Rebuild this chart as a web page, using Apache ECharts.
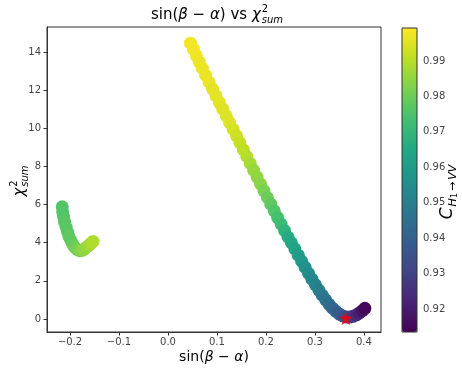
<!DOCTYPE html>
<html><head><meta charset="utf-8">
<script src="https://cdn.jsdelivr.net/npm/echarts@6/dist/echarts.min.js"></script>
<style>html,body{margin:0;padding:0;background:#fff}#c{width:462px;height:369px}</style>
</head><body><div id="c"></div>
<script>
// ---- data ----
const mainX = [0.046,0.052,0.058,0.064,0.070,0.077,0.084,0.091,0.098,0.105,0.112,0.119,0.126,0.133,0.140,0.147,0.154,0.161,0.168,0.175,0.182,0.189,0.196,0.203,0.210,0.217,0.224,0.231,0.238,0.245,0.252,0.259,0.266,0.273,0.280,0.287,0.294,0.301,0.308,0.315,0.322,0.329,0.336,0.343,0.350,0.357,0.364,0.371,0.378,0.385,0.391,0.397,0.402];
const mainY = [14.46,14.15,13.80,13.47,13.15,12.78,12.42,12.06,11.70,11.35,11.00,10.65,10.30,9.95,9.60,9.24,8.88,8.52,8.16,7.80,7.44,7.08,6.72,6.37,6.02,5.67,5.32,4.98,4.64,4.30,4.00,3.68,3.35,3.03,2.71,2.40,2.09,1.80,1.52,1.25,1.00,0.77,0.57,0.40,0.26,0.16,0.10,0.10,0.14,0.22,0.32,0.44,0.56];
const mainC = [0.998,0.998,0.998,0.997,0.997,0.997,0.997,0.996,0.996,0.996,0.995,0.995,0.995,0.994,0.993,0.992,0.991,0.990,0.988,0.986,0.985,0.984,0.982,0.980,0.978,0.976,0.974,0.972,0.969,0.966,0.965,0.963,0.961,0.959,0.957,0.955,0.953,0.952,0.950,0.948,0.946,0.944,0.942,0.940,0.938,0.936,0.934,0.931,0.928,0.924,0.921,0.918,0.915];

const leftX = [-0.216,-0.215,-0.213,-0.211,-0.208,-0.205,-0.202,-0.198,-0.194,-0.190,-0.185,-0.180,-0.175,-0.170,-0.165,-0.160,-0.156,-0.153];
const leftY = [5.88,5.62,5.35,5.08,4.82,4.56,4.32,4.10,3.90,3.75,3.64,3.58,3.60,3.68,3.79,3.90,4.00,4.07];
const leftC = [0.976,0.976,0.976,0.977,0.977,0.977,0.978,0.978,0.979,0.980,0.981,0.982,0.984,0.985,0.986,0.987,0.988,0.989];

const bestX = [0.363];
const bestY = [0.04];

const xTicks = [-0.2,-0.1,0.0,0.1,0.2,0.3,0.4];
const yTicks = [0,2,4,6,8,10,12,14];
const cTicks = [0.92,0.93,0.94,0.95,0.96,0.97,0.98,0.99];
const cMin = 0.9135, cMax = 0.9993;

const viridis = ['#440154','#482475','#414487','#355f8d','#2a788e','#21918c','#22a884','#44bf70','#7ad151','#bddf26','#fde725'];

// ---- build ----
const ptsMain = mainX.map((x,i)=>[x, mainY[i], mainC[i]]);
const ptsLeft = leftX.map((x,i)=>[x, leftY[i], leftC[i]]);
const ptsBest = bestX.map((x,i)=>[x, bestY[i]]);

const cv = document.createElement('canvas').getContext('2d');
function tw(t,f){cv.font=f;return cv.measureText(t).width;}
const FAM = '"DejaVu Sans"';
function layout(pieces){
  let end=0, lastStart=0; const out=[];
  pieces.forEach(p=>{
    const font=(p.it?'italic ':'')+p.s+'px '+FAM;
    const w=tw(p.t,font);
    const px = p.stack ? lastStart : end;
    if(!p.stack) lastStart = px;
    out.push({type:'text', x:px, y:(p.dy||0), style:{text:p.t, font:font, fill:'#000', textAlign:'left', textVerticalAlign:'middle', align:'left', verticalAlign:'middle'}});
    end = Math.max(end, px + w + (p.gap||0));
  });
  out.forEach(o=>{o.x -= end/2;});
  return out;
}
const titleKids = layout([{t:'sin(',s:15},{t:'β',s:15,it:1},{t:' − ',s:15},{t:'α',s:15,it:1},{t:') vs ',s:15},{t:'χ',s:15,it:1,gap:1},{t:'2',s:10,dy:-6},{t:'sum',s:10,it:1,dy:5,stack:1}]);
const xLabKids = layout([{t:'sin(',s:14},{t:'β',s:14,it:1},{t:' − ',s:14},{t:'α',s:14,it:1},{t:')',s:14}]);
const yLabKids = layout([{t:'χ',s:15,it:1,gap:1},{t:'2',s:10,dy:-6},{t:'sum',s:10,it:1,dy:5,stack:1}]);
const cLabKids = layout([{t:'C',s:17,it:1,gap:1},{t:'H',s:11,it:1,dy:5},{t:'1',s:8,dy:7,gap:2},{t:'→',s:11,dy:5,gap:2},{t:'VV',s:11,it:1,dy:5}]);

const fmtX = v => (Math.abs(v)<1e-9?'0.0':v.toFixed(1)).replace('-', '−');
const tickLab = {color:'#444', fontSize:10, fontFamily:FAM};

const chart = echarts.init(document.getElementById('c'), null, {renderer:'canvas'});
chart.setOption({
  animation:false,
  backgroundColor:'#fff',
  grid:[
    {left:47, top:27, width:334, height:305, show:true, borderColor:'#333', borderWidth:1, containLabel:false},
    {left:402, top:28, width:15, height:304, show:false, containLabel:false}
  ],
  xAxis:[
    {gridIndex:0, type:'value', min:-0.247, max:0.435,
     axisLine:{show:true, onZero:false, lineStyle:{color:'#333'}},
     axisTick:{show:true, inside:false, length:3.5, lineStyle:{color:'#333'}, customValues:xTicks},
     axisLabel:{...tickLab, margin:5, customValues:xTicks, formatter:fmtX},
     splitLine:{show:false}},
    {gridIndex:1, type:'value', min:0, max:1, show:false}
  ],
  yAxis:[
    {gridIndex:0, type:'value', min:-0.68, max:15.31,
     axisLine:{show:true, onZero:false, lineStyle:{color:'#333'}},
     axisTick:{show:true, inside:false, length:3.5, lineStyle:{color:'#333'}, customValues:yTicks},
     axisLabel:{...tickLab, margin:6, customValues:yTicks, formatter:v=>String(Math.round(v))},
     splitLine:{show:false}},
    {gridIndex:1, type:'value', position:'right', min:cMin, max:cMax,
     axisLine:{show:false},
     axisTick:{show:true, inside:false, length:3.5, lineStyle:{color:'#333'}, customValues:cTicks},
     axisLabel:{...tickLab, margin:6, customValues:cTicks, formatter:v=>v.toFixed(2)},
     splitLine:{show:false}}
  ],
  visualMap:{type:'continuous', min:cMin, max:cMax, dimension:2, seriesIndex:[0,1],
    inRange:{color:viridis}, left:402, top:28, itemWidth:15, itemHeight:304,
    padding:0, text:null, showLabel:false, calculable:false, orient:'vertical', hoverLink:false},
  series:[
    {type:'scatter', xAxisIndex:0, yAxisIndex:0, data:ptsLeft, symbolSize:13, itemStyle:{opacity:1}},
    {type:'scatter', xAxisIndex:0, yAxisIndex:0, data:ptsMain, symbolSize:13, itemStyle:{opacity:1}},
    {type:'scatter', xAxisIndex:0, yAxisIndex:0, data:ptsBest, z:5,
     symbol:'path://M50,0 L61.2,34.5 L97.6,34.5 L68.2,55.9 L79.4,90.5 L50,69.1 L20.6,90.5 L31.8,55.9 L2.4,34.5 L38.8,34.5 Z',
     symbolSize:14, itemStyle:{color:'#ff0000'}}
  ],
  graphic:[
    {type:'group', x:217, y:15, children:titleKids},
    {type:'group', x:214, y:357, children:xLabKids},
    {type:'group', x:20, y:181, rotation:Math.PI/2, children:yLabKids},
    {type:'group', x:448, y:192, rotation:Math.PI/2, children:cLabKids},
    {type:'rect', shape:{x:402, y:28, width:15, height:304}, style:{fill:null, stroke:'#333', lineWidth:1}, z:100}
  ]
});
</script></body></html>
